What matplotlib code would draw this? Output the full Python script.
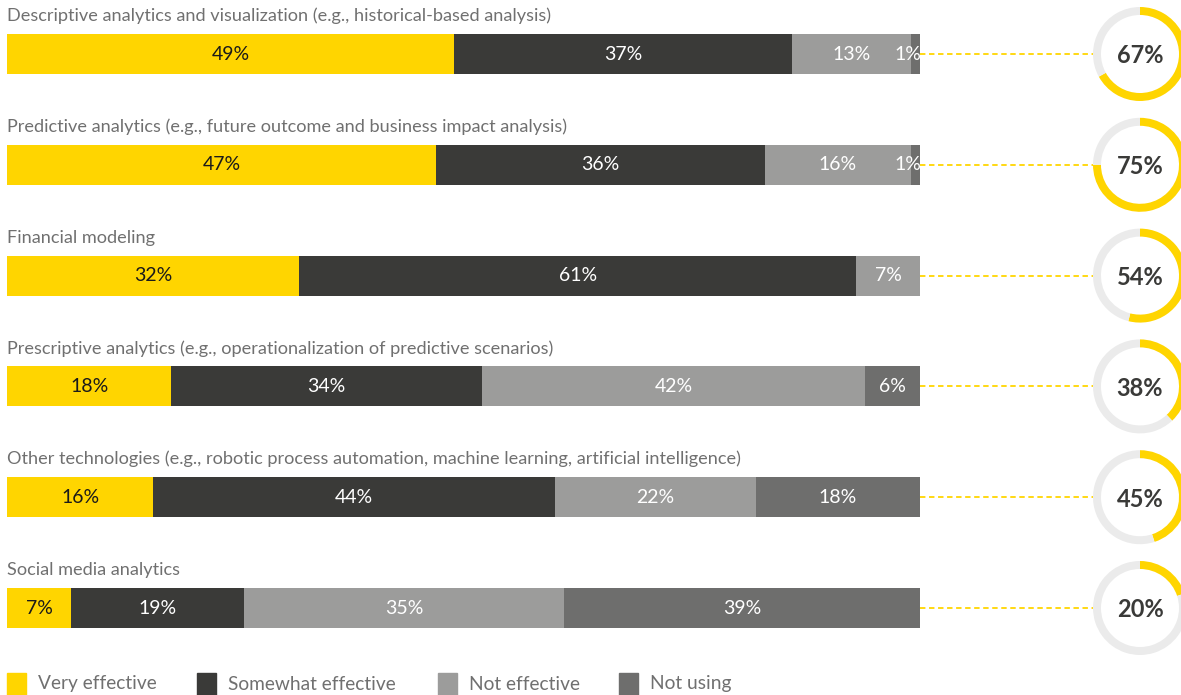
import numpy as np
import matplotlib.pyplot as plt
from matplotlib.patches import Rectangle

categories = [
    "Descriptive analytics and visualization (e.g., historical-based analysis)",
    "Predictive analytics (e.g., future outcome and business impact analysis)",
    "Financial modeling",
    "Prescriptive analytics (e.g., operationalization of predictive scenarios)",
    "Other technologies (e.g., robotic process automation, machine learning, artificial intelligence)",
    "Social media analytics",
]
very_effective = [49, 47, 32, 18, 16, 7]
somewhat_effective = [37, 36, 61, 34, 44, 19]
not_effective = [13, 16, 7, 42, 22, 35]
not_using = [1, 1, 0, 6, 18, 39]
donut_pct = [67, 75, 54, 38, 45, 20]

series_names = ["Very effective", "Somewhat effective", "Not effective", "Not using"]
colors = ["#FFD500", "#3A3A38", "#9C9C9B", "#6E6E6D"]
text_colors = ["#1A1A1A", "#FFFFFF", "#FFFFFF", "#FFFFFF"]
yellow = "#FFD500"
ring_bg = "#EBEBEB"
label_gray = "#707070"

W, H = 1181, 695
fig = plt.figure(figsize=(W / 100, H / 100), dpi=100)

# main axis: x in percent, one row per technology
x0_px, px_per_pct = 7, 9.13
row0_px, row_step = 54, 110.8
ax = fig.add_axes([0, 0, 1, 1])
ax.set_xlim(-x0_px / px_per_pct, (W - x0_px) / px_per_pct)
ax.set_ylim((H - row0_px) / row_step, -row0_px / row_step)
ax.axis("off")

rows = np.arange(len(categories))
data = [very_effective, somewhat_effective, not_effective, not_using]
left = np.zeros(len(categories))
bar_h = 40 / row_step
for vals, col, tcol in zip(data, colors, text_colors):
    vals = np.array(vals, dtype=float)
    ax.barh(rows, vals, left=left, height=bar_h, color=col, edgecolor="none")
    for r, v, l in zip(rows, vals, left):
        if v <= 0:
            continue
        if v < 3:
            ax.text(l + v + 0.1, r, f"{int(v)}%", ha="right", va="center",
                    color=tcol, fontsize=14, family="Lato")
        else:
            ax.text(l + v / 2, r, f"{int(v)}%", ha="center", va="center",
                    color=tcol, fontsize=14, family="Lato")
    left += vals

for r, name in zip(rows, categories):
    ax.text(0, r - 38 / row_step, name, ha="left", va="center",
            color=label_gray, fontsize=13.1, family="Lato")

# dashed connectors to the rings
ring_cx_px, ring_r_px = 1140, 47
x_end = (ring_cx_px - ring_r_px - x0_px) / px_per_pct
for r in rows:
    ax.plot([100, x_end], [r, r], color=yellow, lw=1.3, ls=(0, (3, 2)))

# rings
for r, p in zip(rows, donut_pct):
    cy_px = row0_px + r * row_step
    size = 2 * ring_r_px
    dax = fig.add_axes([(ring_cx_px - ring_r_px) / W, 1 - (cy_px + ring_r_px) / H,
                        size / W, size / H])
    dax.pie([p, 100 - p], colors=[yellow, ring_bg], startangle=90, counterclock=False,
            radius=1, wedgeprops=dict(width=0.17, edgecolor="none"))
    dax.set_xlim(-1, 1)
    dax.set_ylim(-1, 1)
    dax.set_aspect("equal")
    dax.text(0, -0.04, f"{p}%", ha="center", va="center", fontsize=17,
             fontweight="bold", color="#3A3A38", family="Lato")

# legend row along the bottom
legend_x = [7, 197, 438, 619]
for lx, name, col in zip(legend_x, series_names, colors):
    fig.patches.append(Rectangle((lx / W, 0), 19 / W, 22 / H,
                                 transform=fig.transFigure, color=col))
    fig.text((lx + 31) / W, 1 - 684 / H, name, ha="left", va="center",
             color=label_gray, fontsize=13.8, family="Lato")

fig.savefig("out.png", dpi=100)
